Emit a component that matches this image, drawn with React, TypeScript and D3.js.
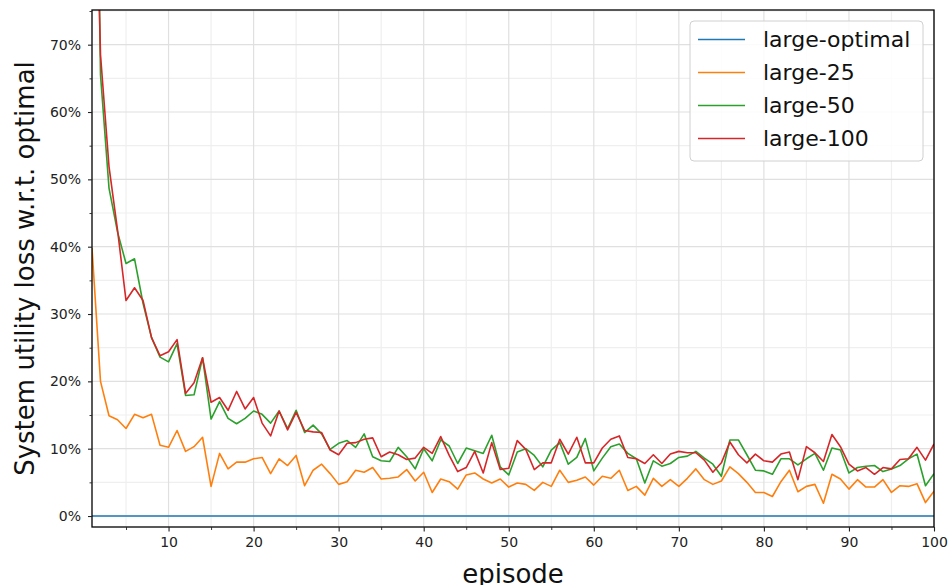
import React, { useEffect, useRef } from "react";
import * as d3 from "d3";

// episodes 1..100
const episodes = d3.range(1, 101);

const largeOptimal = [
  0, 0, 0, 0, 0, 0, 0, 0, 0, 0, 0, 0, 0, 0, 0, 0, 0, 0, 0, 0,
  0, 0, 0, 0, 0, 0, 0, 0, 0, 0, 0, 0, 0, 0, 0, 0, 0, 0, 0, 0,
  0, 0, 0, 0, 0, 0, 0, 0, 0, 0, 0, 0, 0, 0, 0, 0, 0, 0, 0, 0,
  0, 0, 0, 0, 0, 0, 0, 0, 0, 0, 0, 0, 0, 0, 0, 0, 0, 0, 0, 0,
  0, 0, 0, 0, 0, 0, 0, 0, 0, 0, 0, 0, 0, 0, 0, 0, 0, 0, 0, 0,
];

const large25 = [
  0.398, 0.200, 0.149, 0.143, 0.130, 0.151, 0.146, 0.151, 0.105, 0.102,
  0.127, 0.096, 0.103, 0.117, 0.044, 0.093, 0.070, 0.080, 0.080, 0.085,
  0.087, 0.063, 0.085, 0.075, 0.090, 0.045, 0.068, 0.077, 0.063, 0.047,
  0.051, 0.068, 0.065, 0.072, 0.055, 0.056, 0.058, 0.069, 0.052, 0.065,
  0.035, 0.055, 0.051, 0.040, 0.061, 0.064, 0.055, 0.049, 0.055, 0.043,
  0.049, 0.047, 0.038, 0.050, 0.044, 0.068, 0.050, 0.053, 0.058, 0.046,
  0.059, 0.056, 0.068, 0.038, 0.044, 0.031, 0.056, 0.044, 0.054, 0.044,
  0.056, 0.070, 0.054, 0.047, 0.052, 0.073, 0.063, 0.050, 0.035, 0.035,
  0.029, 0.051, 0.068, 0.036, 0.044, 0.047, 0.019, 0.062, 0.055, 0.040,
  0.054, 0.043, 0.043, 0.054, 0.035, 0.045, 0.044, 0.048, 0.020, 0.037,
];

const large50 = [
  1.5, 0.655, 0.487, 0.422, 0.375, 0.382, 0.316, 0.265, 0.236, 0.229,
  0.256, 0.179, 0.180, 0.235, 0.144, 0.170, 0.145, 0.137, 0.145, 0.156,
  0.151, 0.138, 0.156, 0.130, 0.157, 0.124, 0.135, 0.122, 0.099, 0.108,
  0.112, 0.102, 0.122, 0.088, 0.082, 0.081, 0.102, 0.088, 0.070, 0.100,
  0.082, 0.113, 0.104, 0.078, 0.101, 0.097, 0.093, 0.120, 0.073, 0.061,
  0.095, 0.100, 0.090, 0.073, 0.098, 0.109, 0.077, 0.087, 0.115, 0.067,
  0.086, 0.103, 0.107, 0.093, 0.085, 0.049, 0.082, 0.074, 0.078, 0.087,
  0.089, 0.096, 0.086, 0.077, 0.059, 0.113, 0.113, 0.091, 0.068, 0.067,
  0.062, 0.085, 0.085, 0.076, 0.085, 0.093, 0.068, 0.101, 0.098, 0.064,
  0.072, 0.074, 0.075, 0.066, 0.070, 0.075, 0.085, 0.092, 0.045, 0.063,
];

const large100 = [
  1.2, 0.685, 0.519, 0.425, 0.320, 0.339, 0.320, 0.265, 0.238, 0.244,
  0.262, 0.182, 0.198, 0.235, 0.169, 0.176, 0.157, 0.185, 0.159, 0.176,
  0.138, 0.119, 0.156, 0.128, 0.154, 0.127, 0.125, 0.124, 0.098, 0.091,
  0.108, 0.109, 0.114, 0.116, 0.088, 0.095, 0.091, 0.084, 0.086, 0.102,
  0.093, 0.118, 0.090, 0.066, 0.072, 0.096, 0.064, 0.109, 0.069, 0.071,
  0.112, 0.099, 0.069, 0.079, 0.079, 0.114, 0.092, 0.117, 0.079, 0.079,
  0.101, 0.114, 0.119, 0.087, 0.085, 0.078, 0.091, 0.078, 0.092, 0.096,
  0.094, 0.094, 0.083, 0.065, 0.079, 0.110, 0.091, 0.079, 0.092, 0.082,
  0.080, 0.092, 0.095, 0.054, 0.103, 0.094, 0.081, 0.121, 0.103, 0.077,
  0.067, 0.072, 0.062, 0.072, 0.070, 0.084, 0.085, 0.102, 0.083, 0.107,
];

const seriesNames = ["large-optimal", "large-25", "large-50", "large-100"];
const seriesValues = [largeOptimal, large25, large50, large100];
const seriesColors = ["#1f77b4", "#ff7f0e", "#2ca02c", "#d62728"];

const xMajorTicks = [10, 20, 30, 40, 50, 60, 70, 80, 90, 100];
const xMinorTicks = [5, 15, 25, 35, 45, 55, 65, 75, 85, 95];
const yMajorTicks = [0, 0.1, 0.2, 0.3, 0.4, 0.5, 0.6, 0.7];
const yMinorTicks = [0.05, 0.15, 0.25, 0.35, 0.45, 0.55, 0.65, 0.75];

const W = 949, H = 585;
const FONT = "DejaVu Sans, sans-serif";

export default function App() {
  const ref = useRef<SVGSVGElement>(null);

  useEffect(() => {
    const svg = d3.select(ref.current);
    svg.selectAll("*").remove();

    const left = 92, right = 934, top = 10, bottom = 527;
    const x = d3.scaleLinear().domain([1, 100]).range([left, right]);
    const y = d3.scaleLinear().domain([-0.0163, 0.7515]).range([bottom, top]);

    svg.append("rect").attr("width", W).attr("height", H).attr("fill", "#fff");

    // grid
    const grid = svg.append("g");
    grid.selectAll(".xmin").data(xMinorTicks).enter().append("line")
      .attr("x1", d => x(d)).attr("x2", d => x(d)).attr("y1", top).attr("y2", bottom)
      .attr("stroke", "#efefef").attr("stroke-width", 1.2);
    grid.selectAll(".ymin").data(yMinorTicks).enter().append("line")
      .attr("x1", left).attr("x2", right).attr("y1", d => y(d)).attr("y2", d => y(d))
      .attr("stroke", "#efefef").attr("stroke-width", 1.2);
    grid.selectAll(".xmaj").data(xMajorTicks).enter().append("line")
      .attr("x1", d => x(d)).attr("x2", d => x(d)).attr("y1", top).attr("y2", bottom)
      .attr("stroke", "#e0e0e0").attr("stroke-width", 1.2);
    grid.selectAll(".ymaj").data(yMajorTicks).enter().append("line")
      .attr("x1", left).attr("x2", right).attr("y1", d => y(d)).attr("y2", d => y(d))
      .attr("stroke", "#e0e0e0").attr("stroke-width", 1.2);

    // clip
    svg.append("defs").append("clipPath").attr("id", "plotclip")
      .append("rect").attr("x", left).attr("y", top)
      .attr("width", right - left).attr("height", bottom - top);

    const line = d3.line<number>()
      .x((_, i) => x(episodes[i]))
      .y(d => y(d));

    const lines = svg.append("g").attr("clip-path", "url(#plotclip)");
    seriesValues.forEach((vals, i) => {
      lines.append("path")
        .datum(vals)
        .attr("d", line)
        .attr("fill", "none")
        .attr("stroke", seriesColors[i])
        .attr("stroke-width", 1.6)
        .attr("stroke-linejoin", "round");
    });

    // spines
    svg.append("rect")
      .attr("x", left).attr("y", top).attr("width", right - left).attr("height", bottom - top)
      .attr("fill", "none").attr("stroke", "#000").attr("stroke-width", 1.3);

    // x axis
    const xAxis = d3.axisBottom(x).tickValues(xMajorTicks).tickSizeInner(4.5).tickSizeOuter(0).tickPadding(6);
    const gx = svg.append("g").attr("transform", `translate(0,${bottom})`).call(xAxis);
    gx.select(".domain").remove();
    gx.selectAll("text").attr("font-family", FONT).attr("font-size", 14).attr("fill", "#222");
    gx.selectAll("line").attr("stroke", "#222").attr("stroke-width", 1.1);
    const xMinor = d3.axisBottom(x).tickValues(xMinorTicks).tickSize(3).tickFormat(() => "");
    const gxm = svg.append("g").attr("transform", `translate(0,${bottom})`).call(xMinor);
    gxm.select(".domain").remove();
    gxm.selectAll("line").attr("stroke", "#222").attr("stroke-width", 0.9);

    // y axis
    const yAxis = d3.axisLeft(y).tickValues(yMajorTicks).tickSizeInner(4).tickSizeOuter(0).tickPadding(7)
      .tickFormat(d => `${Math.round((d as number) * 100)}%`);
    const gy = svg.append("g").attr("transform", `translate(${left},0)`).call(yAxis);
    gy.select(".domain").remove();
    gy.selectAll("text").attr("font-family", FONT).attr("font-size", 14).attr("fill", "#222");
    gy.selectAll("line").attr("stroke", "#222").attr("stroke-width", 1.1);
    const yMinor = d3.axisLeft(y).tickValues(yMinorTicks).tickSize(2.5).tickFormat(() => "");
    const gym = svg.append("g").attr("transform", `translate(${left},0)`).call(yMinor);
    gym.select(".domain").remove();
    gym.selectAll("line").attr("stroke", "#222").attr("stroke-width", 0.9);

    // axis titles (x title is cut at the bottom edge, as in the original)
    svg.append("text")
      .attr("x", (left + right) / 2).attr("y", 583)
      .attr("text-anchor", "middle")
      .attr("font-family", FONT).attr("font-size", 26).attr("fill", "#111")
      .text("episode");
    svg.append("text")
      .attr("transform", `translate(34,${(top + bottom) / 2}) rotate(-90)`)
      .attr("text-anchor", "middle")
      .attr("font-family", FONT).attr("font-size", 26).attr("fill", "#111")
      .text("System utility loss w.r.t. optimal");

    // legend
    const lg = svg.append("g");
    lg.append("rect")
      .attr("x", 690).attr("y", 21).attr("width", 233).attr("height", 140)
      .attr("rx", 4).attr("fill", "#fff").attr("fill-opacity", 0.85)
      .attr("stroke", "#d0d0d0").attr("stroke-width", 1);
    seriesNames.forEach((name, i) => {
      const ly = 39.5 + i * 33;
      lg.append("line")
        .attr("x1", 698).attr("x2", 745).attr("y1", ly).attr("y2", ly)
        .attr("stroke", seriesColors[i]).attr("stroke-width", 1.6);
      lg.append("text")
        .attr("x", 763).attr("y", ly + 7.8)
        .attr("font-family", FONT).attr("font-size", 22).attr("fill", "#111")
        .text(name);
    });
  }, []);

  return (
    <svg
      ref={ref}
      width={W}
      height={H}
      style={{ position: "absolute", left: 0, top: 0, display: "block" }}
    />
  );
}
